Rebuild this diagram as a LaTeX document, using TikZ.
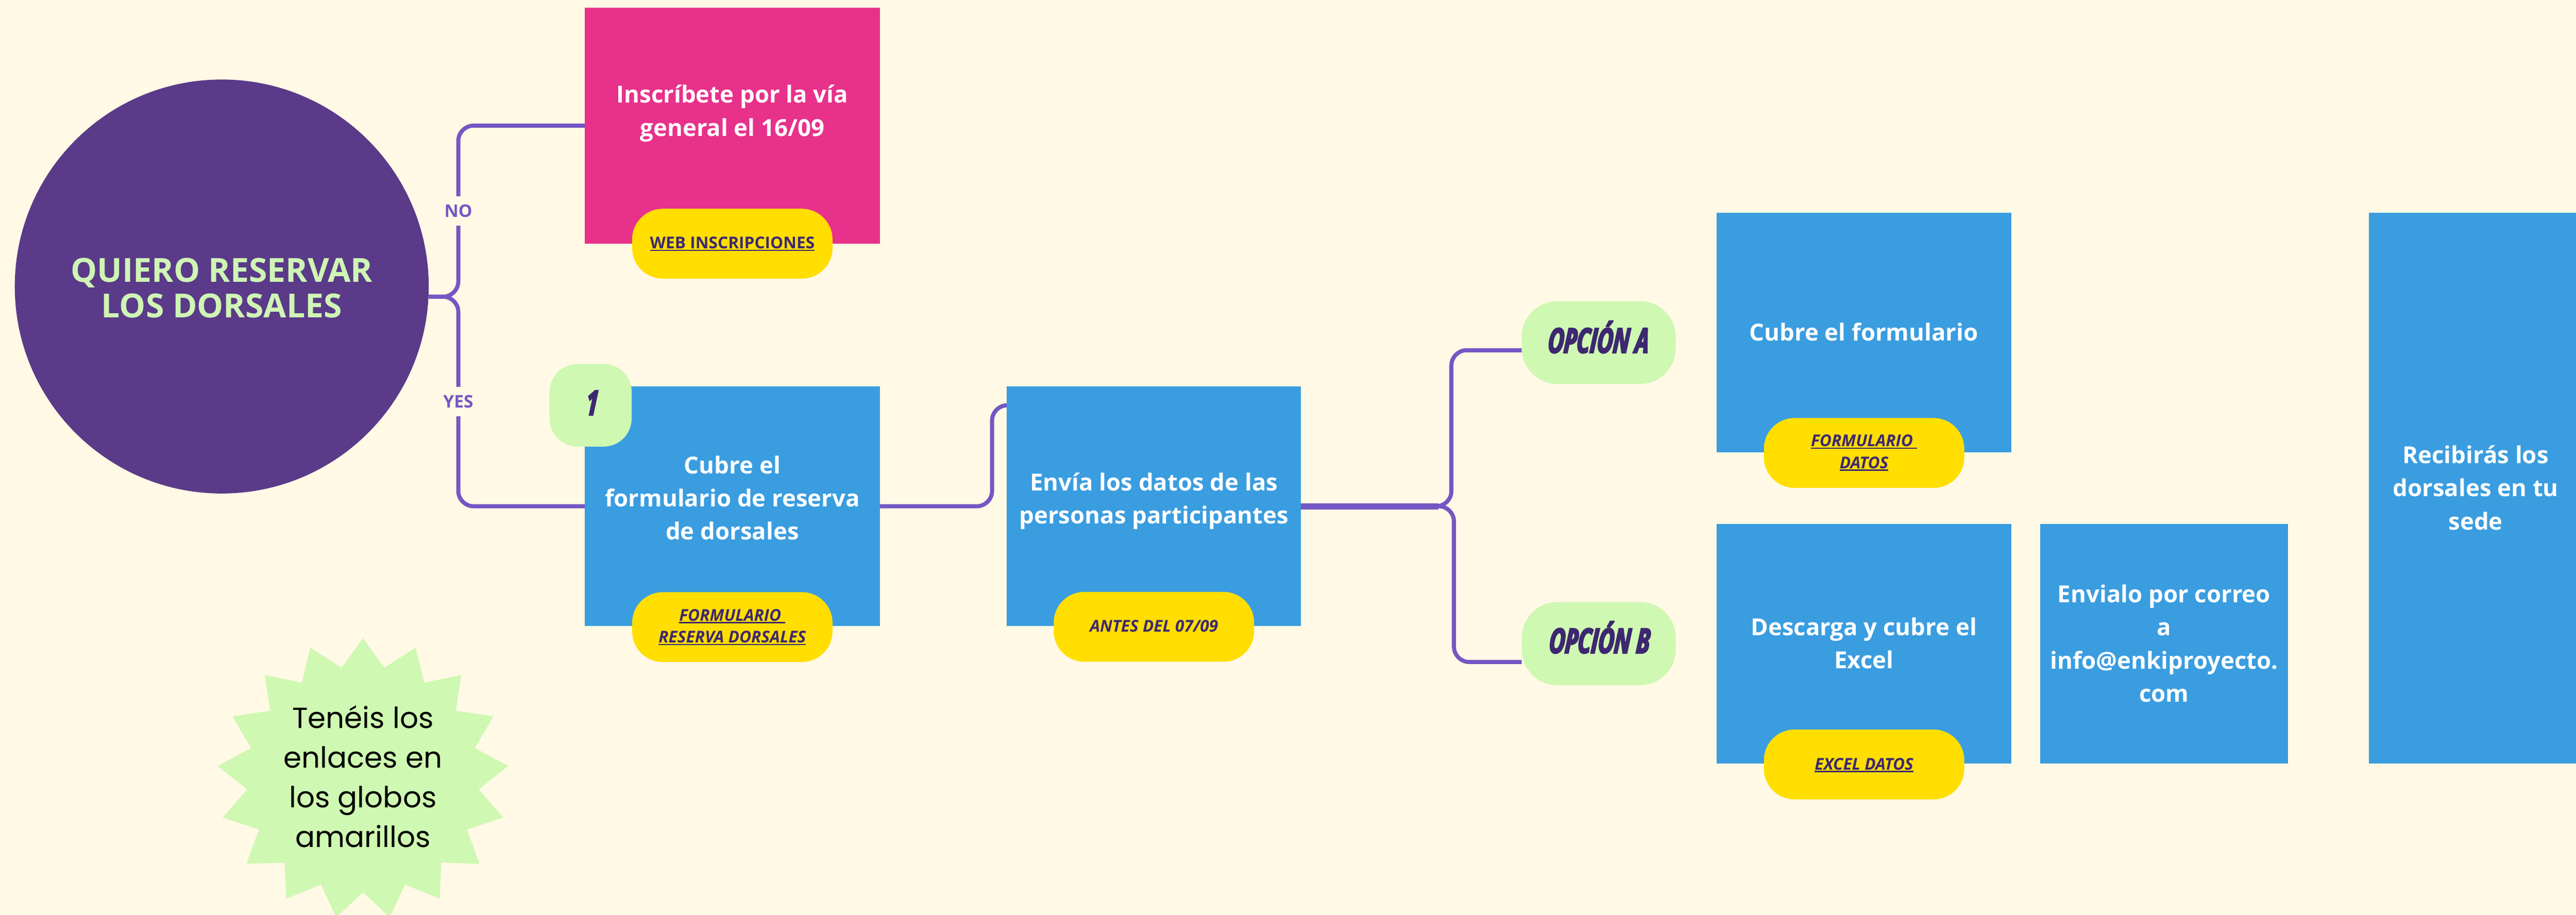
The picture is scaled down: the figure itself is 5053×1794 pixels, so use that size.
\documentclass[tikz,border=0pt]{standalone}
\usepackage{fontspec}
\setmainfont{Open Sans}
\newfontfamily\poppins{Poppins}
\newfontfamily\heavy{Open Sans}[FakeStretch=0.64,FakeBold=4,FakeSlant=0.08]
\pgfdeclarelayer{bg}
\pgfsetlayers{bg,main}
\definecolor{cbg}{HTML}{FFF9E5}
\definecolor{cpurple}{HTML}{5B3A89}
\definecolor{ctitle}{HTML}{CFF5B4}
\definecolor{cpink}{HTML}{E8318A}
\definecolor{cblue}{HTML}{3A9DE0}
\definecolor{cyellow}{HTML}{FFDE00}
\definecolor{cgreen}{HTML}{CFF8B2}
\definecolor{cdark}{HTML}{3D2870}
\definecolor{cline}{HTML}{7457C4}
\newcommand\ulx[1]{\setbox0=\hbox{#1}\rlap{\vrule height -2pt depth 4.5pt width \wd0}\box0}
\tikzset{
  boxw/.style={rectangle, inner sep=0pt, minimum width=579pt, minimum height=470pt, fill=cblue},
  pill/.style={rectangle, rounded corners=60pt, fill=cyellow, minimum width=393pt, minimum height=137pt, inner sep=0pt},
  opt/.style={rectangle, rounded corners=70pt, fill=cgreen, minimum width=302pt, minimum height=162pt, inner sep=0pt},
  conn/.style={draw=cline, line width=8pt, rounded corners=30pt},
  wtxt/.style={text=white, font=\fontsize{46}{65}\selectfont\bfseries, align=center, inner sep=0pt},
  ptxt/.style={text=cdark, font=\fontsize{32}{43}\selectfont\bfseries\itshape, align=center, inner sep=0pt},
  optxt/.style={text=cdark, font=\fontsize{67}{70}\selectfont\heavy\bfseries\itshape, inner sep=0pt, anchor=base},
  lbl/.style={text=cline, fill=cbg, font=\fontsize{34}{40}\selectfont\bfseries, inner xsep=4pt, inner ysep=16pt, anchor=base},
}
\begin{document}
\begin{tikzpicture}[x=1pt,y=-1pt]
\useasboundingbox (0,0) rectangle (5053,1794);
\clip (0,0) rectangle (5053,1794);
\begin{pgfonlayer}{bg}
\fill[cbg] (0,0) rectangle (5053,1794);
\end{pgfonlayer}

% central circle
\node[circle, fill=cpurple, minimum size=812pt, inner sep=0pt] (circ) at (435,562) {};
\node[text=ctitle, font=\fontsize{65}{70}\selectfont\bfseries, align=center, inner sep=0pt] (title) at (435,565) {QUIERO RESERVAR\\LOS DORSALES};

% NO branch
\node[rectangle, fill=cpink, minimum width=579pt, minimum height=463pt, inner sep=0pt] (pink) at (1436.5,246.5) {};
\node[wtxt] (pinktxt) at (1436.5,222.5) {Inscríbete por la vía\\general el 16/09};
\node[pill] (pweb) at (1436.5,478) {};
\node[ptxt, font=\fontsize{32}{43}\selectfont\bfseries, anchor=base] (pwebtxt) at (1436.5,488) {\ulx{WEB INSCRIPCIONES}};

% YES branch
\node[boxw] (b1) at (1436.5,993) {};
\node[wtxt] (b1txt) at (1436.5,976.5) {Cubre el\\formulario de reserva\\de dorsales};
\node[rectangle, rounded corners=55pt, fill=cgreen, minimum width=161pt, minimum height=162pt, inner sep=0pt] (badge) at (1158.5,795) {};
\node[optxt] (badgetxt) at (1160,814) {1};
\node[pill] (pform) at (1436.5,1230) {};
\node[ptxt] (pformtxt) at (1436.5,1230) {\ulx{FORMULARIO }\\\ulx{RESERVA DORSALES}};

% step 2
\node[boxw, minimum width=577pt] (b2) at (2263.5,993) {};
\node[wtxt] (b2txt) at (2263.5,983) {Envía los datos de las\\personas participantes};
\node[pill] (pantes) at (2263.5,1229.5) {};
\node[ptxt, anchor=base] (pantestxt) at (2263.5,1239) {ANTES DEL 07/09};

% options
\node[opt] (optA) at (3136,672) {};
\node[optxt] (optAtxt) at (3134,692) {OPCIÓN A};
\node[opt, minimum height=163pt] (optB) at (3136,1262.5) {};
\node[optxt] (optBtxt) at (3136,1281) {OPCIÓN B};

% option A
\node[boxw, minimum width=578pt] (bA) at (3656,652) {};
\node[wtxt, anchor=base] (bAtxt) at (3656,669) {Cubre el formulario};
\node[pill] (pA) at (3656.5,888.5) {};
\node[ptxt] (pAtxt) at (3656.5,888) {\ulx{FORMULARIO }\\\ulx{DATOS}};

% option B
\node[boxw, minimum width=578pt] (bB) at (3656,1263) {};
\node[wtxt] (bBtxt) at (3656,1261.5) {Descarga y cubre el\\Excel};
\node[pill] (pB) at (3656.5,1499.5) {};
\node[ptxt, anchor=base] (pBtxt) at (3656.5,1510) {\ulx{EXCEL DATOS}};

\node[boxw, minimum width=486pt] (bC) at (4245,1263) {};
\node[wtxt] (bCtxt) at (4245,1262) {Envialo por correo\\a\\info@enkiproyecto.\\com};

% final
\node[rectangle, fill=cblue, minimum width=418pt, minimum height=1081pt, inner sep=0pt] (bD) at (4856,957.5) {};
\node[wtxt] (bDtxt) at (4856,956.5) {Recibirás los\\dorsales en tu\\sede};

% starburst note
\fill[cgreen] plot[samples at={0,...,33}, variable=\k]
  ({712+ifthenelse(iseven(\k),286,228)*cos(90+\k*180/17)},
   {1528-ifthenelse(iseven(\k),276,222)*sin(90+\k*180/17)}) -- cycle;
\node[text=black, font=\fontsize{57}{78}\selectfont\poppins, align=center, inner sep=0pt] (note) at (712,1523) {Tenéis los\\enlaces en\\los globos\\amarillos};

% connectors
\coordinate (j1) at (899,582);
\coordinate (j2) at (1946,993);
\coordinate (j3a) at (2847,993);
\coordinate (j3b) at (2852,993);
\begin{pgfonlayer}{bg}
\draw[conn] ([yshift=-20pt]circ.east) -- (j1) |- (pink.west);
\draw[conn] ([yshift=-20pt]circ.east) -- (j1) |- (b1.west);
\draw[conn] (b1.east) -- (j2) |- ([yshift=198pt]b2.west);
\draw[conn] (b2.east) -- (j3a) |- ([yshift=-15pt]optA.west);
\draw[conn] (b2.east) -- (j3b) |- ([yshift=-36pt]optB.west);
\draw[draw=cline, line width=12pt] (b2.east) -- ([xshift=-25pt]j3a);
\end{pgfonlayer}
\node[lbl] (no) at (899,426) {NO};
\node[lbl] (yes) at (899,800) {YES};
\end{tikzpicture}
\end{document}
